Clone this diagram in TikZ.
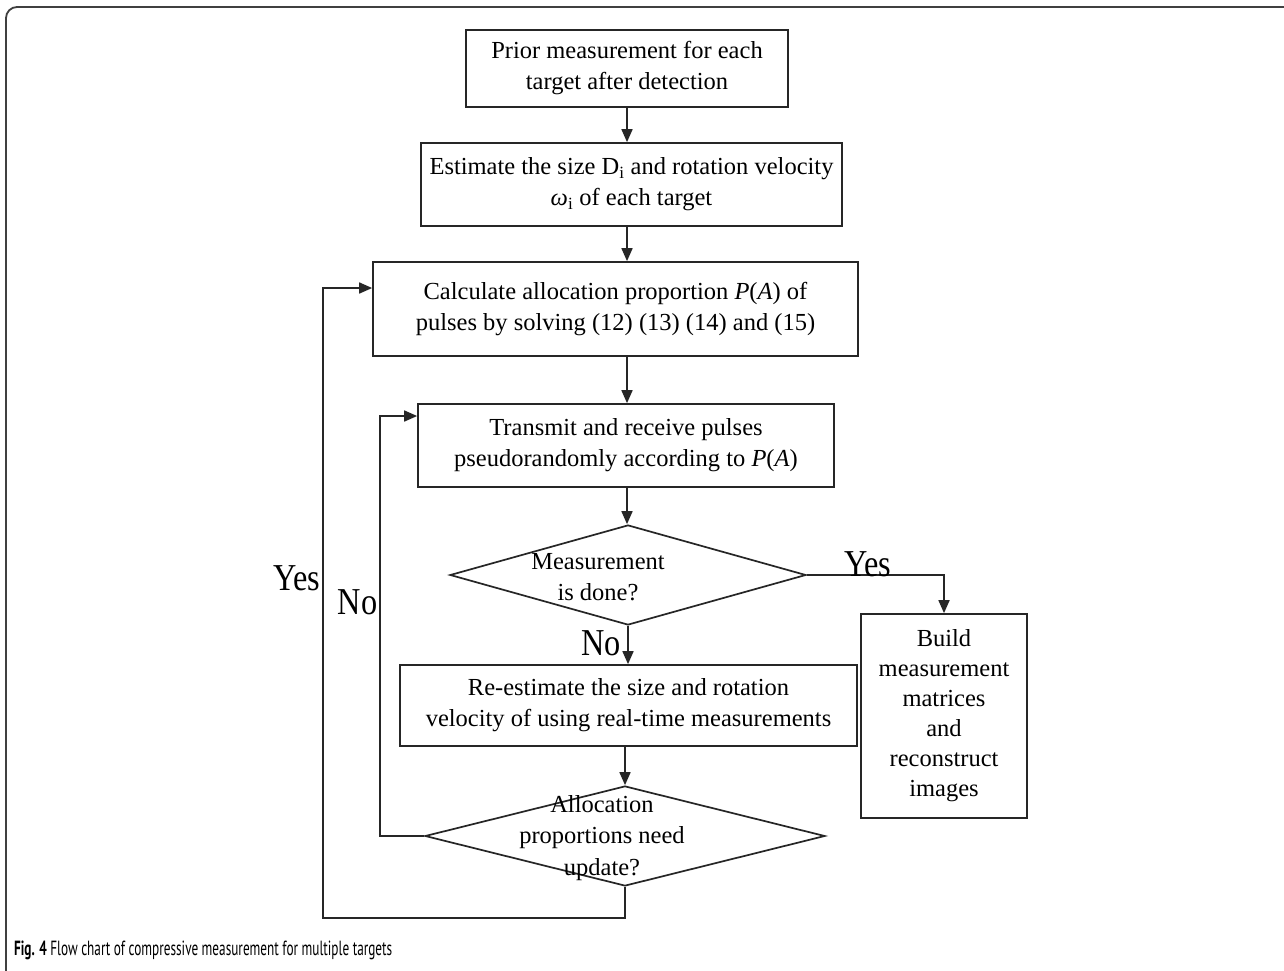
\documentclass[tikz,border=0pt]{standalone}
\usepackage{fontspec}
\setmainfont{Liberation Serif}
\newfontfamily\capfont{PT Sans}
\usetikzlibrary{arrows.meta,shapes.geometric}
\begin{document}
\begin{tikzpicture}[x=1pt,y=-1pt,
  box/.style={draw=black!85,line width=1.7pt,minimum width=#1,inner sep=0pt,align=center,
    font=\fontsize{24.5}{31}\selectfont},
  dia/.style={draw=black!85,line width=1.7pt,diamond,inner sep=0pt},
  dtext/.style={align=center,inner sep=0pt,font=\fontsize{24.5}{31.5}\selectfont},
  lab/.style={inner sep=0pt,anchor=base,font=\fontsize{38}{38}\selectfont},
  arr/.style={line width=1.7pt,draw=black!85,-{Triangle[length=13pt,width=11pt]}},
  ln/.style={line width=1.7pt,draw=black!85}]
\useasboundingbox (0,0) rectangle (1284,971);
\fill[white] (0,0) rectangle (1284,971);
% frame
\draw[line width=1.8pt,draw=black!75,rounded corners=11pt] (1290,7) -- (6,7) -- (6,982) -- (60,982);
% boxes
\node[box=322pt,minimum height=77pt] (b1) at (627,68.5) {Prior measurement for each\\target after detection};
\node[box=421pt,minimum height=83pt] (b2) at (631.5,184.5) {Estimate the size D\textsubscript{i} and rotation velocity\\\textit{ω}\textsubscript{i} of each target};
\node[box=485pt,minimum height=94pt] (b3) at (615.5,309) {Calculate allocation proportion \textit{P}(\textit{A}) of\\pulses by solving (12) (13) (14) and (15)};
\node[box=416pt,minimum height=83pt] (b4) at (626,445.5) {Transmit and receive pulses\\pseudorandomly according to \textit{P}(\textit{A})};
\node[dia,minimum width=356pt,minimum height=100pt] (d1) at (628,575) {};
\node[dtext] (t1) at (598,577) {Measurement\\is done?};
\node[box=166pt,minimum height=204pt,font=\fontsize{24.5}{30}\selectfont] (rb) at (944,716) {Build\\measurement\\matrices\\and\\reconstruct\\images};
\node[box=457pt,minimum height=81pt] (b5) at (628.5,705.5) {Re-estimate the size and rotation\\velocity of using real-time measurements};
\node[dia,minimum width=400pt,minimum height=100pt] (d2) at (625,836) {};
\node[dtext] (t2) at (602,838) {Allocation\\proportions need\\update?};
% main arrows
\draw[arr] (b1.south -| 627,0) -- (627,0 |- b2.north);
\draw[arr] (b2.south -| 627,0) -- (627,0 |- b3.north);
\draw[arr] (b3.south -| 627,0) -- (627,0 |- b4.north);
\draw[arr] (b4.south -| 627,0) -- (627,0 |- d1.north);
\draw[arr] (d1.south) -- (d1.south |- b5.north);
\draw[arr] (b5.south -| d2.north) -- (d2.north);
% yes branch to the right
\coordinate (yr) at (944,575);
\draw[arr] (d1.east) -- (yr) -- (rb.north);
% yes loop
\coordinate (yl) at (323,918);
\draw[arr] (d2.south) -- (d2.south |- yl) -- (yl) -- (yl |- 0,288) -- ([yshift=21pt]b3.west);
% no loop
\coordinate (nl) at (380,836);
\draw[arr] (d2.west) -- (nl) -- (nl |- 0,416) -- ([yshift=29.5pt]b4.west);
% labels
\node[lab] (ly) at (297,590) {\scalebox{0.85}[1]{Yes}};
\node[lab] (ln1) at (357.5,614) {\scalebox{0.85}[1]{No}};
\node[lab] (ly2) at (868,576) {\scalebox{0.85}[1]{Yes}};
\node[lab] (ln2) at (601,655) {\scalebox{0.85}[1]{No}};
% caption
\node[inner sep=0pt,anchor=base west] (cap) at (14,955) {\resizebox{378pt}{\height}{\capfont\fontsize{20.5}{20.5}\selectfont\textbf{Fig. 4} Flow chart of compressive measurement for multiple targets}};
\end{tikzpicture}
\end{document}
